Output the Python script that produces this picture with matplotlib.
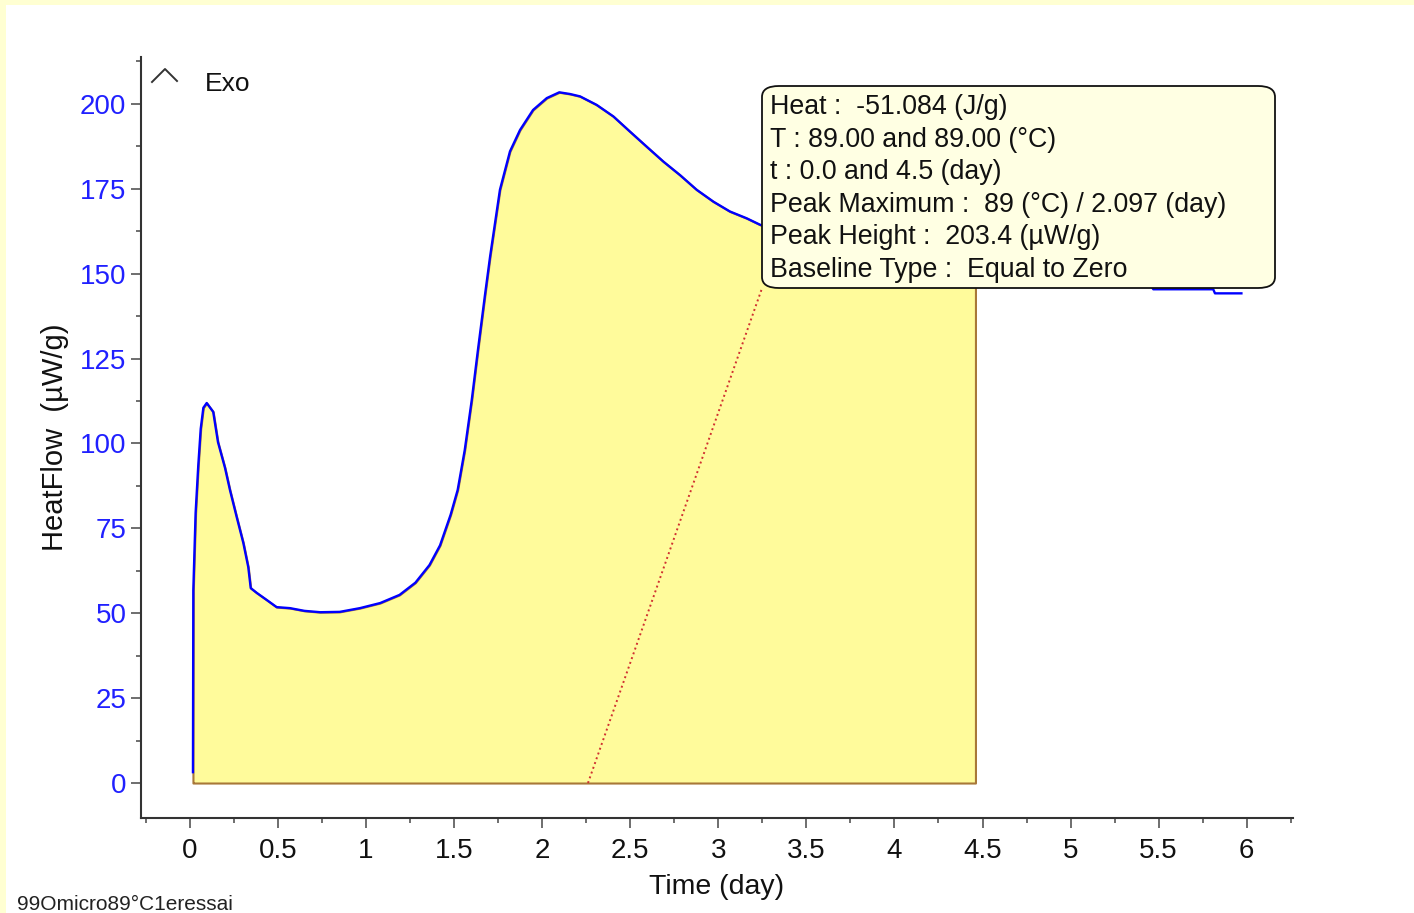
import matplotlib
matplotlib.use("Agg")
import matplotlib.pyplot as plt
from matplotlib.patches import FancyBboxPatch, Rectangle
from matplotlib.lines import Line2D
from matplotlib.ticker import MultipleLocator
import numpy as np

plt.rcParams['font.family'] = ['Liberation Sans', 'DejaVu Sans']

# courbe de flux de chaleur (isotherme 89 °C)
time_day = [0.017, 0.019, 0.032, 0.047, 0.061, 0.076, 0.095, 0.132, 0.159, 0.199,
            0.227, 0.265, 0.303, 0.331, 0.345, 0.379, 0.436, 0.492, 0.568, 0.65,
            0.74, 0.85, 0.965, 1.08, 1.19, 1.28, 1.36, 1.42, 1.48, 1.52,
            1.56, 1.60, 1.635, 1.675, 1.704, 1.760, 1.817, 1.874, 1.948, 2.026,
            2.097, 2.158, 2.215, 2.309, 2.404, 2.499, 2.593, 2.688, 2.783, 2.877,
            2.972, 3.066, 3.161, 3.237, 3.5, 3.75, 4.0, 4.25, 4.46, 4.75,
            5.0, 5.25, 5.45, 5.47, 5.81, 5.82, 5.97]
heat_flow = [3.2, 56.8, 79.5, 93.4, 104.3, 110.5, 111.9, 109.3, 100.4, 92.8,
             86.3, 78.4, 70.7, 63.6, 57.4, 56.0, 53.9, 51.8, 51.5, 50.7,
             50.3, 50.4, 51.5, 53.0, 55.4, 59.0, 64.2, 70.0, 79.0, 86.3,
             98.0, 112.8, 127.5, 143.7, 155.0, 174.7, 186.0, 192.3, 198.2, 201.7,
             203.4, 202.9, 202.2, 199.7, 196.3, 191.8, 187.4, 183.0, 179.0, 174.7,
             171.2, 168.3, 166.3, 164.4, 160.0, 157.0, 154.5, 152.3, 150.8, 149.3,
             148.3, 147.6, 147.0, 145.4, 145.4, 144.2, 144.2]

# bornes d'integration du pic
t_start = 0.017
t_end = 4.46
heat_total = -51.084
temp_iso = 89

# ligne de rappel vers l'info-bulle
pointer_t = [2.26, 3.25]
pointer_v = [0, 146]

x_ticks = [0, 0.5, 1, 1.5, 2, 2.5, 3, 3.5, 4, 4.5, 5, 5.5, 6]
y_ticks = [0, 25, 50, 75, 100, 125, 150, 175, 200]

t = np.array(time_day)
hf = np.array(heat_flow)
i_pk = int(np.argmax(hf))
peak_t, peak_v = t[i_pk], hf[i_pk]

W, H = 1414, 913
fig = plt.figure(figsize=(W / 100, H / 100), dpi=100)
fig.patch.set_facecolor('white')
# bandeau jaune haut / gauche
fig.patches.append(Rectangle((0, 1 - 5 / H), 1, 5 / H, transform=fig.transFigure,
                             facecolor='#FFFFD2', edgecolor='none', zorder=0))
fig.patches.append(Rectangle((0, 0), 6 / W, 1, transform=fig.transFigure,
                             facecolor='#FFFFD2', edgecolor='none', zorder=0))

ax = fig.add_axes([141 / W, 1 - 818 / H, (1293 - 141) / W, (818 - 57) / H])
ax.set_facecolor('white')

# zone integree
m = (t >= t_start) & (t <= t_end)
ax.fill_between(t[m], 0, hf[m], facecolor='#FFFB9B', edgecolor='#A87838',
                linewidth=1.5, zorder=1)
ax.plot(pointer_t, pointer_v, linestyle=(0, (1, 1.6)), color='#D03030', lw=1.4, zorder=2)
ax.plot(t, hf, color='#0000FF', lw=1.7, zorder=3)

ax.set_xlim(-0.278, 6.263)
ax.set_ylim(-10.3, 213.8)
ax.set_xticks(x_ticks)
ax.set_xticklabels([f'{v:g}' for v in x_ticks])
ax.set_yticks(y_ticks)
ax.xaxis.set_minor_locator(MultipleLocator(0.25))
ax.yaxis.set_minor_locator(MultipleLocator(12.5))

for s in ['top', 'right']:
    ax.spines[s].set_visible(False)
for s in ['left', 'bottom']:
    ax.spines[s].set_color('#333333')
    ax.spines[s].set_linewidth(1.5)

ax.tick_params(which='major', length=7.5, width=1.2, color='#555555')
ax.tick_params(which='minor', length=3.5, width=1.2, color='#555555')
ax.tick_params(axis='x', labelsize=20, pad=7, labelcolor='#111111')
ax.tick_params(axis='y', labelsize=20, pad=3, labelcolor='#2020FF')

ax.set_xlabel('Time (day)', fontsize=20.5, labelpad=7, color='#111111')
ax.set_ylabel('HeatFlow  (µW/g)', fontsize=21, labelpad=8, color='#111111')

# indication Exo
fig.add_artist(Line2D([152 / W, 165 / W, 177 / W], [1 - 82 / H, 1 - 69 / H, 1 - 81 / H],
                      transform=fig.transFigure, color='#333333', lw=1.4))
fig.text(205 / W, 1 - 84 / H, 'Exo', fontsize=19, va='center', ha='left', color='#111111')

# info-bulle du pic
box = FancyBboxPatch((762 / W, 1 - 288 / H), (1275 - 762) / W, (288 - 86) / H,
                     boxstyle='round,pad=0,rounding_size=0.012',
                     transform=fig.transFigure, facecolor='#FFFFE3',
                     edgecolor='#111111', lw=1.3, zorder=5)
fig.patches.append(box)
lines = [
    f'Heat :  {heat_total:.3f} (J/g)',
    f'T : {temp_iso:.2f} and {temp_iso:.2f} (°C)',
    f't : {t_start:.1f} and {t_end:.1f} (day)',
    f'Peak Maximum :  {temp_iso} (°C) / {peak_t:.3f} (day)',
    f'Peak Height :  {peak_v:.1f} (µW/g)',
    'Baseline Type :  Equal to Zero',
]
for i, txt in enumerate(lines):
    fig.text(770 / W, 1 - (107 + i * 32.6) / H, txt, fontsize=19.3,
             va='center', ha='left', color='#111111', zorder=6)

fig.text(17 / W, 3 / H, '99Omicro89°C1eressai', fontsize=15, va='baseline',
         ha='left', color='#222222')

fig.savefig('out.png', dpi=100)
